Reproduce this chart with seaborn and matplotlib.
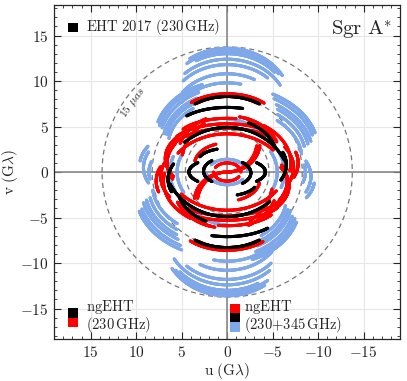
import numpy as np
import pandas as pd
import matplotlib
matplotlib.use("Agg")
import matplotlib.pyplot as plt
from matplotlib.patches import Rectangle
from matplotlib.ticker import MultipleLocator, FuncFormatter
import seaborn as sns

# uv tracks for the upper half, read off the figure as elliptical arcs:
# (v_centre, u semi-axis, v semi-axis, start angle, end angle) in G-lambda / degrees
# the conjugate tracks (-u, -v) are added below
eht2017_tracks = [
    (5.5, 5.0, 2.8, -45, 45),
    (4.5, 5.8, 2.6, -17, 50),
    (-1.5, 7.0, 6.4, -64, 42),
    (1.5, 5.5, 4.3, -75, -25),
    (0.8, 6.5, 4.0, -115, -70),
    (0.0, 4.2, 1.6, 50, 130),
    (0.1, 2.6, 1.5, 40, 140),
    (1.2, 3.2, 1.4, 20, 70),
]
ngeht230_tracks = [
    (5.7, 5.3, 2.9, -50, 48),
    (5.3, 5.0, 3.0, -40, 40),
    (3.5, 5.6, 2.4, -10, 60),
    (2.5, 6.4, 2.8, -40, 60),
    (1.8, 6.5, 3.0, -55, 65),
    (-0.8, 6.6, 5.0, -50, 55),
    (1.5, 6.8, 4.0, 35, 120),
    (1.0, 6.6, 4.2, 60, 115),
    (1.0, 5.0, 5.0, 30, 80),
    (1.5, 5.5, 4.8, 25, 70),
    (1.0, 7.0, 5.0, -100, -35),
    (0.5, 7.3, 4.5, -110, -60),
    (3.2, 3.6, 3.2, -180, -95),
    (3.5, 3.3, 3.5, -175, -100),
    (0.0, 1.5, 1.0, -90, 60),
    (0.8, 3.6, 2.4, 20, 80),
    (1.8, 5.8, 4.4, -70, -20),
    (2.2, 5.2, 4.0, -65, -15),
    (1.0, 7.8, 4.6, -110, -75),
]
ngeht345_tracks = [
    (7.6, 7.0, 6.0, -60, 36),
    (7.4, 6.9, 5.9, -55, 40),
    (7.3, 6.8, 5.7, -50, 30),
    (7.0, 6.6, 5.4, -62, 45),
    (6.8, 6.3, 5.0, -45, 50),
    (6.0, 6.0, 4.8, -30, 55),
    (5.5, 5.8, 4.3, -15, 60),
    (3.5, 8.0, 6.5, 20, 72),
    (3.5, 7.7, 6.2, 22, 75),
    (3.3, 7.4, 6.0, 25, 75),
    (3.0, 7.1, 5.8, 28, 78),
    (3.0, 6.8, 5.4, 30, 78),
    (2.8, 6.5, 5.1, 35, 80),
    (2.5, 10.0, 7.0, -75, -30),
    (2.3, 9.7, 6.8, -75, -32),
    (2.0, 9.4, 6.6, -78, -35),
    (2.0, 9.0, 6.2, -80, -38),
    (1.8, 8.6, 5.9, -80, -40),
    (1.5, 8.2, 5.6, -85, -42),
    (0.5, 9.2, 5.0, 70, 110),
    (0.0, 8.6, 4.5, 75, 100),
    (0.8, 9.6, 4.8, 65, 85),
    (0.0, 5.5, 4.5, 60, 120),
    (0.0, 6.3, 5.0, 70, 115),
    (1.2, 4.8, 4.6, -45, 0),
    (0.2, 2.0, 1.2, -60, 60),
    (0.0, 2.3, 1.3, 100, 160),
]

circle_radii = [13.75, 8.25, 4.6]
band_names = ["ngEHT 345", "ngEHT 230", "EHT 2017"]
band_colors = {"ngEHT 345": "#7ea8ea", "ngEHT 230": "#ff0000", "EHT 2017": "#000000"}


def track_points(tracks, name):
    rows = []
    for v0, a, b, t0, t1 in tracks:
        n = int(abs(t1 - t0) * max(a, b) * np.pi / 180 / 0.05) + 2
        t = np.radians(np.linspace(t0, t1, n))
        u = a * np.sin(t)
        v = v0 + b * np.cos(t)
        for sign in (1, -1):
            rows.append(pd.DataFrame({"u": sign * u, "v": sign * v, "band": name}))
    return rows


frames = []
frames += track_points(ngeht345_tracks, "ngEHT 345")
frames += track_points(ngeht230_tracks, "ngEHT 230")
frames += track_points(eht2017_tracks, "EHT 2017")
df = pd.concat(frames, ignore_index=True)

sns.set_style("ticks")
plt.rcParams["mathtext.fontset"] = "cm"
plt.rcParams["font.family"] = ["DejaVu Serif"]

fig = plt.figure(figsize=(4.07, 3.81), dpi=100)
ax = fig.add_axes([0.1334, 0.110, 0.8496, 0.877])

ax.grid(True, color="#e6e6e6", lw=0.8, zorder=0)
ax.axhline(0, color="#888888", lw=1.2, zorder=1)
ax.axvline(0, color="#888888", lw=1.2, zorder=1)

th = np.linspace(0, 2 * np.pi, 400)
for r in circle_radii:
    ax.plot(r * np.cos(th), r * np.sin(th), ls=(0, (4, 3)), color="#777777", lw=0.9, zorder=2)

sns.scatterplot(data=df, x="u", y="v", hue="band", hue_order=band_names,
                palette=band_colors, s=5, linewidth=0, legend=False, ax=ax, zorder=3)

ax.set_xlim(19, -19)
ax.set_ylim(-18.36, 18.36)
ax.set_aspect("equal")

ax.xaxis.set_major_locator(MultipleLocator(5))
ax.yaxis.set_major_locator(MultipleLocator(5))
ax.xaxis.set_minor_locator(MultipleLocator(1))
ax.yaxis.set_minor_locator(MultipleLocator(1))
fmt = FuncFormatter(lambda x, p: f"${x:g}$")
ax.xaxis.set_major_formatter(fmt)
ax.yaxis.set_major_formatter(fmt)
ax.tick_params(which="both", direction="in", top=True, right=True, labelsize=11, pad=4)
ax.tick_params(which="major", length=5, width=0.8)
ax.tick_params(which="minor", length=2.5, width=0.6)
for sp in ax.spines.values():
    sp.set_linewidth(0.9)

ax.set_xlabel(r"$\mathrm{u}\ (\mathrm{G}\lambda)$", fontsize=11, labelpad=1)
ax.set_ylabel(r"$\mathrm{v}\ (\mathrm{G}\lambda)$", fontsize=11, labelpad=0)

ax.text(10.4, 7.6, r"$15\ \mu as$", rotation=54, fontsize=8.5, color="#333333",
        ha="center", va="center", zorder=4)
ax.text(0.978, 0.962, r"$\mathrm{Sgr\ A}^{*}$", transform=ax.transAxes, fontsize=15,
        ha="right", va="top")

# label swatches
sw, sh = 0.029, 0.028


def swatch(x, y, color):
    ax.add_patch(Rectangle((x, y), sw, sh, transform=ax.transAxes, color=color,
                           lw=0, zorder=5))


swatch(0.040, 0.918, "#000000")
ax.text(0.092, 0.933, r"$\mathrm{EHT\ 2017\ (230\,GHz)}$", transform=ax.transAxes,
        fontsize=10.5, va="center")

swatch(0.040, 0.064, "#000000")
swatch(0.040, 0.036, "#ff0000")
ax.text(0.092, 0.095, r"$\mathrm{ngEHT}$", transform=ax.transAxes, fontsize=10.5, va="center")
ax.text(0.092, 0.042, r"$\mathrm{(230\,GHz)}$", transform=ax.transAxes, fontsize=10.5, va="center")

swatch(0.508, 0.078, "#ff0000")
swatch(0.508, 0.050, "#000000")
swatch(0.508, 0.022, band_colors["ngEHT 345"])
ax.text(0.548, 0.095, r"$\mathrm{ngEHT}$", transform=ax.transAxes, fontsize=10.5, va="center")
ax.text(0.548, 0.042, r"$\mathrm{(230{+}345\,GHz)}$", transform=ax.transAxes, fontsize=10.5, va="center")

fig.savefig("out.png", dpi=100)
